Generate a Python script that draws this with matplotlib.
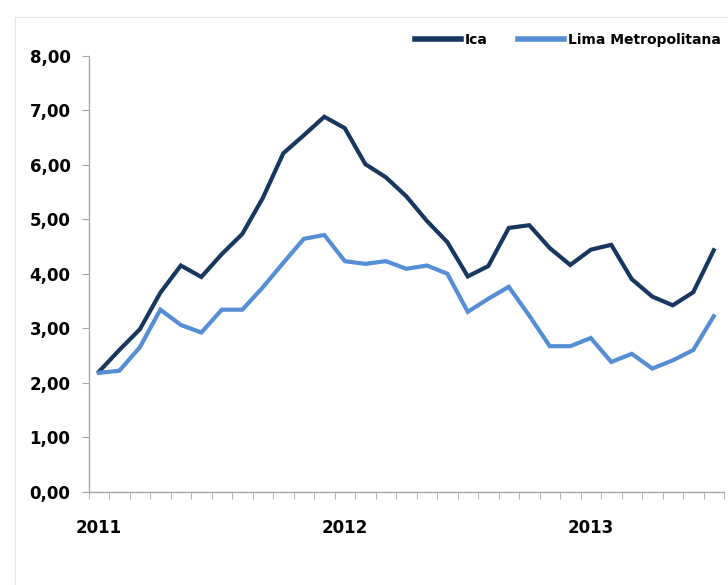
import numpy as np
import matplotlib
matplotlib.use("Agg")
import matplotlib.pyplot as plt
from matplotlib.ticker import FuncFormatter, FixedLocator
from matplotlib.patches import Rectangle

# Monthly values, Jan 2011 - Jul 2013
years = ["2011", "2012", "2013"]
year_pos = [0, 12, 24]
ica = [2.20, 2.60, 2.98, 3.65, 4.15, 3.94, 4.36, 4.73, 5.39, 6.21,
       6.54, 6.88, 6.67, 6.01, 5.77, 5.42, 4.97, 4.58, 3.95, 4.14,
       4.84, 4.89, 4.47, 4.16, 4.44, 4.53, 3.90, 3.58, 3.42, 3.66, 4.43]
lima = [2.18, 2.22, 2.65, 3.34, 3.06, 2.92, 3.34, 3.34, 3.75, 4.20,
        4.64, 4.71, 4.23, 4.18, 4.23, 4.09, 4.15, 4.00, 3.30, 3.54,
        3.76, 3.23, 2.67, 2.67, 2.82, 2.38, 2.53, 2.26, 2.41, 2.60, 3.22]

x = np.arange(len(ica))

fig = plt.figure(figsize=(7.28, 5.85), dpi=100)
ax = fig.add_axes([88.6 / 728, 1 - 491.7 / 585, (724 - 88.6) / 728, (491.7 - 55.7) / 585])

# light frame around the chart area
fig.patches.append(Rectangle((15 / 728, -0.1), 1.1, 1 - 17 / 585 + 0.1,
                             transform=fig.transFigure, fill=False,
                             edgecolor="#E6E6E6", linewidth=0.8))

ax.plot(x, ica, color="#17375E", linewidth=3.0, label="Ica", solid_joinstyle="miter")
ax.plot(x, lima, color="#558ED5", linewidth=3.0, label="Lima Metropolitana", solid_joinstyle="miter")

ax.set_xlim(-0.5, len(ica) - 0.5)
ax.set_ylim(0, 8)

for s in ["top", "right"]:
    ax.spines[s].set_visible(False)
for s in ["left", "bottom"]:
    ax.spines[s].set_color("#A6A6A6")
    ax.spines[s].set_linewidth(1.0)

ax.yaxis.set_major_locator(FixedLocator(np.arange(0, 9, 1)))
ax.yaxis.set_major_formatter(FuncFormatter(lambda v, p: f"{v:.2f}".replace(".", ",")))
ax.tick_params(axis="y", direction="out", length=5, color="#A6A6A6", pad=8,
               labelsize=12)

ax.xaxis.set_minor_locator(FixedLocator(np.arange(-0.5, len(ica), 1)))
ax.set_xticks(year_pos)
ax.set_xticklabels(years)
ax.tick_params(axis="x", which="major", length=0, pad=20, labelsize=12)
ax.tick_params(axis="x", which="minor", direction="out", length=5, color="#A6A6A6")

for lab in ax.get_xticklabels() + ax.get_yticklabels():
    lab.set_fontweight("bold")

leg = fig.legend(loc="upper right", bbox_to_anchor=(1.008, 0.965), ncol=2, frameon=False,
                 handlelength=3.3, handletextpad=0.3, columnspacing=2.2,
                 prop={"family": ["Liberation Sans Narrow", "DejaVu Sans"],
                       "weight": "bold", "size": 10})
for line in leg.get_lines():
    line.set_linewidth(4.0)

fig.savefig("out.png", dpi=100, facecolor="white")
